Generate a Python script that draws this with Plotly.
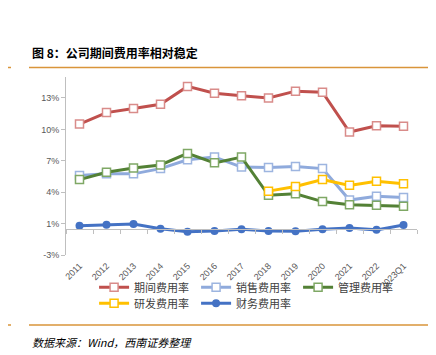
import plotly.graph_objects as go

categories = ["2011", "2012", "2013", "2014", "2015", "2016", "2017",
              "2018", "2019", "2020", "2021", "2022", "2023Q1"]
period_rate = [10.0, 11.1, 11.5, 11.9, 13.6, 12.95, 12.7, 12.5, 13.15, 13.05, 9.25, 9.85, 9.8]
sales_rate = [5.1, 5.25, 5.25, 5.75, 6.6, 6.85, 5.9, 5.85, 5.95, 5.75, 2.75, 3.1, 3.0]
admin_rate = [4.7, 5.4, 5.8, 6.1, 7.2, 6.3, 6.85, 3.2, 3.35, 2.6, 2.3, 2.25, 2.15]
rd_rate = [None, None, None, None, None, None, None, 3.6, 4.05, 4.7, 4.15, 4.55, 4.3]
fin_rate = [0.3, 0.4, 0.45, 0.0, -0.28, -0.2, -0.05, -0.2, -0.22, -0.03, 0.08, -0.1, 0.37]

ytick_vals = [-2.5, 0.5, 3.5, 6.5, 9.5, 12.5]
ytick_text = ["-3%", "1%", "4%", "7%", "10%", "13%"]

series = [
    ("期间费用率", period_rate, "#C0504D", "#D98C8A", "square-open", "legend"),
    ("销售费用率", sales_rate, "#8FAADC", "#9DB5E0", "square-open", "legend"),
    ("管理费用率", admin_rate, "#538135", "#7FA865", "square-open", "legend"),
    ("研发费用率", rd_rate, "#FFC000", "#FFC000", "square-open", "legend2"),
    ("财务费用率", fin_rate, "#4472C4", "#4472C4", "circle", "legend2"),
]

fig = go.Figure()
for name, vals, color, mcolor, sym, leg in series:
    if sym == "circle":
        marker = dict(symbol="circle", size=8, color=color)
    else:
        marker = dict(symbol="square", size=8, color="white",
                      line=dict(color=mcolor, width=1.5))
    fig.add_trace(go.Scatter(
        x=categories, y=vals, name=name, mode="lines+markers",
        line=dict(color=color, width=3), marker=marker,
        connectgaps=False, legend=leg, cliponaxis=False,
    ))

# dummy trace on overlay axis for zero-line with category ticks
fig.add_trace(go.Scatter(x=categories, y=[None] * len(categories), xaxis="x2",
                         showlegend=False, hoverinfo="skip"))

legend_common = dict(orientation="h", x=0.08, xanchor="left", yanchor="top",
                     font=dict(size=11, color="#404040"), entrywidth=57,
                     itemwidth=30, tracegroupgap=0, bgcolor="rgba(0,0,0,0)")

fig.update_layout(
    width=436, height=355,
    margin=dict(l=58, r=27, t=69, b=108),
    paper_bgcolor="white", plot_bgcolor="white",
    font=dict(family="Noto Sans CJK SC, Liberation Sans", color="#404040"),
    xaxis=dict(
        type="category", range=[-0.5, 12.5], showgrid=False, showline=False,
        ticks="", tickangle=-45, ticklabelstandoff=3,
        tickfont=dict(family="Liberation Sans, Arial", size=9, color="#595959"),
        zeroline=False,
    ),
    xaxis2=dict(
        type="category", overlaying="x", anchor="free", position=2.5 / 17,
        range=[-0.5, 12.5], showline=True, linecolor="#BFBFBF", linewidth=1,
        ticks="outside", tickson="boundaries", ticklen=4, tickcolor="#BFBFBF",
        showticklabels=False, showgrid=False, zeroline=False,
    ),
    yaxis=dict(
        range=[-2.5, 14.5], tickvals=ytick_vals, ticktext=ytick_text,
        showgrid=False, zeroline=False, showline=True, linecolor="#BFBFBF",
        linewidth=1, ticks="outside", ticklen=4, tickcolor="#BFBFBF",
        tickfont=dict(family="Liberation Sans, Arial", size=9, color="#595959"),
    ),
    legend=dict(y=-0.1, **legend_common),
    legend2=dict(y=-0.19, **legend_common),
    showlegend=True,
)

# Title and decorative lines
fig.add_annotation(text="<b>图 8：公司期间费用率相对稳定</b>", xref="paper", yref="paper",
                   x=(22 - 58) / 351, y=(247 - 45) / 178, xanchor="left", yanchor="middle",
                   showarrow=False, font=dict(size=12, color="#000000",
                                              family="Noto Sans CJK SC"))
fig.add_annotation(text="<i>数据来源：Wind，西南证券整理</i>", xref="paper", yref="paper",
                   x=(22 - 58) / 351, y=(247 - 334) / 178, xanchor="left", yanchor="middle",
                   showarrow=False, font=dict(size=11, color="#000000",
                                              family="Noto Sans CJK SC"))

line_color = "#D9953A"
for ypix, xend in [(59.5, 429), (317, 436)]:
    yp = (247 - ypix) / 178
    fig.add_shape(type="line", xref="paper", yref="paper",
                  x0=(21 - 58) / 351, x1=(xend - 58) / 351, y0=yp, y1=yp,
                  line=dict(color=line_color, width=1.5))
    fig.add_shape(type="line", xref="paper", yref="paper",
                  x0=(0 - 58) / 351, x1=(3 - 58) / 351, y0=yp, y1=yp,
                  line=dict(color=line_color, width=1.5))

fig.write_html("out.html")
